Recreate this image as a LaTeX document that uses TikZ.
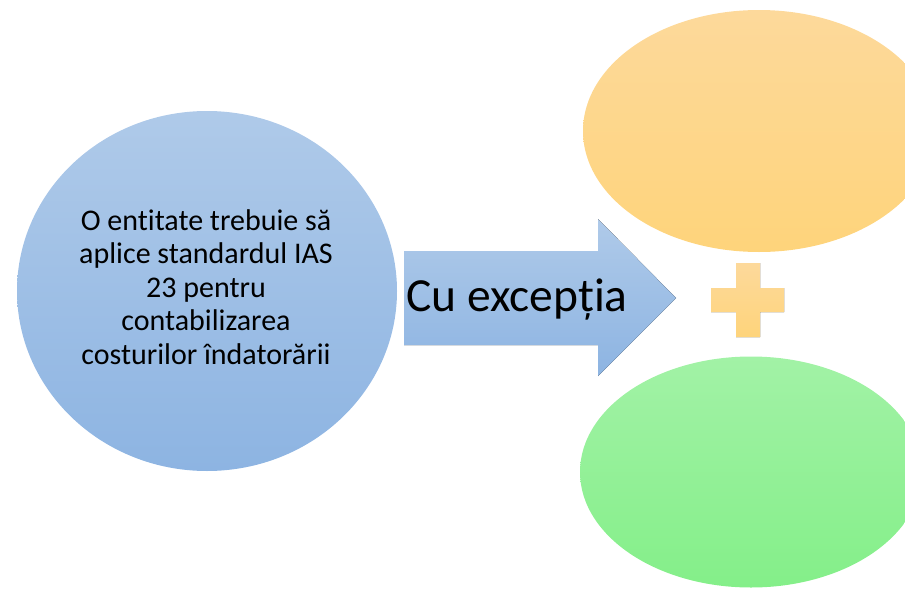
\documentclass[tikz,border=0pt]{standalone}
\usepackage{fontspec}
\setmainfont[Ligatures=NoCommon]{Carlito}
\usetikzlibrary{shapes.geometric}
\definecolor{blueTop}{HTML}{AFCAE9}
\definecolor{blueBot}{HTML}{8DB4E2}
\definecolor{orTop}{HTML}{FDD99B}
\definecolor{orBot}{HTML}{FED47B}
\definecolor{grTop}{HTML}{A2F2A6}
\definecolor{grBot}{HTML}{84EF89}
\tikzset{
  blueshade/.style={top color=blueTop, bottom color=blueBot, draw=none},
  orshade/.style={top color=orTop, bottom color=orBot, draw=none},
  grshade/.style={top color=grTop, bottom color=grBot, draw=none},
  oval/.style={ellipse, inner sep=0pt},
}
\begin{document}
\begin{tikzpicture}[x=1pt,y=-1pt]
\useasboundingbox (0,0) rectangle (905,589);
\clip (0,0) rectangle (905,589);
% left circle
\node[oval, blueshade, minimum width=380pt, minimum height=360pt] (src) at (207,291) {};
\node[align=center, inner sep=0pt, font=\fontsize{30}{33.5}\selectfont] (srctext) at (206,287)
  {O entitate trebuie să\\aplice standardul IAS\\23 pentru\\contabilizarea\\costurilor îndatorării};
% arrow
\fill[blueshade] (404,251) -- (598,251) -- (598,219) -- (676,298)
  -- (598,376) -- (598,345) -- (404,345) -- cycle;
\node[anchor=base west, inner sep=0pt, font=\fontsize{47.5}{56}\selectfont] (lbl) at (406,311) {Cu excepția};
% orange ellipse
\node[oval, orshade, minimum width=352pt, minimum height=242pt] (top) at (759,131) {};
% plus
\fill[orshade] (736,263) -- (760,263) -- (760,288) -- (784,288) -- (784,312)
  -- (760,312) -- (760,337) -- (736,337) -- (736,312) -- (711,312)
  -- (711,288) -- (736,288) -- cycle;
% green ellipse
\node[oval, grshade, minimum width=342pt, minimum height=231pt] (bot) at (751,472) {};
\end{tikzpicture}
\end{document}
